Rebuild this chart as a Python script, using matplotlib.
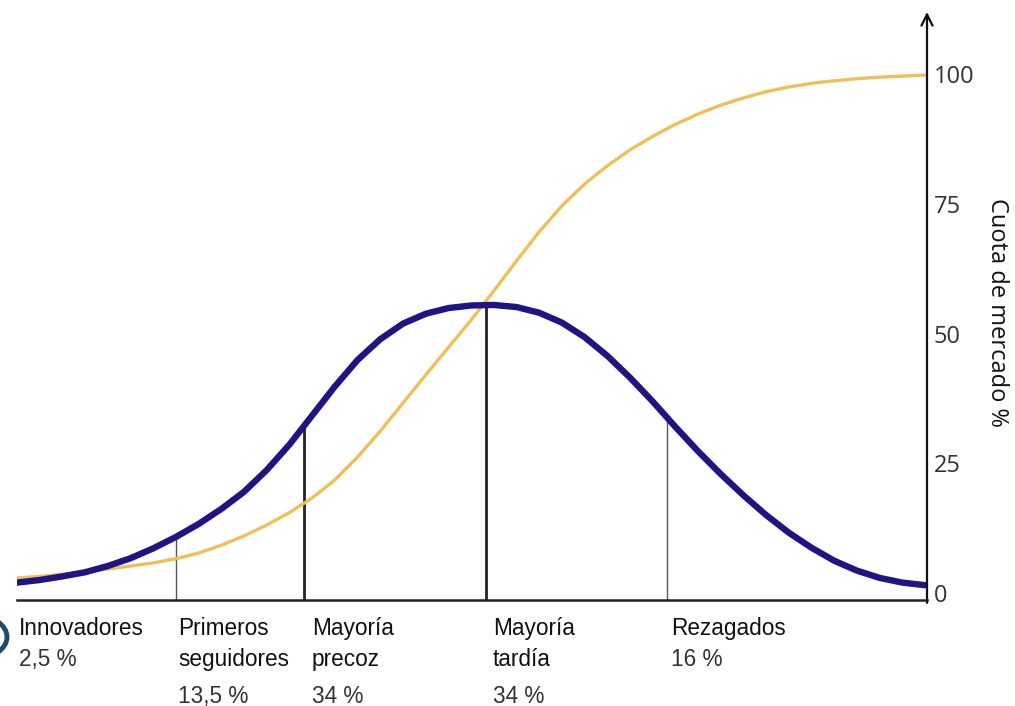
import numpy as np
import matplotlib.pyplot as plt
from matplotlib.patches import Circle

# sample positions along the adoption axis (0 = left edge, 100 = right axis)
t = np.linspace(0, 100, 41)

# adopters per stage (bell) and cumulative market share (S curve)
bell = [2.0, 2.5, 3.2, 4.0, 5.2, 6.7, 8.6, 10.8, 13.3, 16.2,
        19.5, 23.7, 28.6, 34.2, 39.8, 44.9, 48.9, 51.9, 53.8, 54.9,
        55.4, 55.5, 55.1, 54.0, 52.1, 49.3, 45.7, 41.5, 36.9, 32.0,
        27.3, 22.9, 18.8, 15.0, 11.6, 8.7, 6.2, 4.3, 2.9, 2.0, 1.5]
cumulative = [2.9, 3.2, 3.6, 4.1, 4.6, 5.2, 5.8, 6.6, 7.7, 9.2,
              11.0, 13.1, 15.5, 18.3, 21.8, 26.2, 31.2, 36.6, 42.0, 47.3,
              52.6, 58.2, 64.0, 69.6, 74.6, 78.8, 82.3, 85.4, 88.0, 90.3,
              92.3, 94.0, 95.4, 96.6, 97.5, 98.2, 98.7, 99.1, 99.4, 99.6, 99.8]

# boundaries between adopter groups
splits = [17.5, 31.6, 51.6, 71.6]
split_width = [1.0, 2.0, 2.0, 1.0]
split_color = ['#555555', '#222222', '#222222', '#555555']

groups = [['Innovadores', '2,5 %'],
          ['Primeros', 'seguidores', '13,5 %'],
          ['Mayoría', 'precoz', '34 %'],
          ['Mayoría', 'tardía', '34 %'],
          ['Rezagados', '16 %']]
group_x = [19, 178, 312, 493, 671]

y_ticks = [0, 25, 50, 75, 100]

W, H = 1015, 706
fig = plt.figure(figsize=(W / 100, H / 100), dpi=100)
ax = fig.add_axes([17 / W, 1 - 600 / H, (927 - 17) / W, (600 - 12) / H])
ax.set_xlim(0, 100.2)
ax.set_ylim(-1.35, 111.95)

for s, lw, c in zip(splits, split_width, split_color):
    top = np.interp(s, t, bell)
    ax.plot([s, s], [-1.35, top], color=c, lw=lw, zorder=1)

ax.plot(t, cumulative, color='#efc05a', lw=2.4, solid_capstyle='round',
        solid_joinstyle='round', zorder=2)
ax.plot(t, bell, color='#1f1484', lw=4.6, solid_capstyle='round',
        solid_joinstyle='round', zorder=3)

for side in ['left', 'top', 'right']:
    ax.spines[side].set_visible(False)
ax.spines['bottom'].set_linewidth(1.8)
ax.spines['bottom'].set_color('#222222')
ax.set_xticks([])

# right axis drawn as an arrow
ax.annotate('', xy=(100.2, 111.95), xytext=(100.2, -1.9),
            arrowprops=dict(arrowstyle='->', color='#111111', lw=1.6,
                            mutation_scale=20, shrinkA=0, shrinkB=0),
            annotation_clip=False)

ax.yaxis.tick_right()
ax.set_yticks(y_ticks)
ax.set_yticklabels([str(v) for v in y_ticks], fontsize=17, color='#333333',
                   family='Open Sans')
ax.tick_params(axis='y', length=0, pad=5)

fig.text(997 / W, 1 - 312 / H, 'Cuota de mercado %', rotation=-90,
         ha='center', va='center', fontsize=17, family='Open Sans', color='#111111')

baselines = [635, 666, 703]
for gx, lines in zip(group_x, groups):
    for i, line in enumerate(lines):
        if i == len(lines) - 1:
            row = 1 if len(lines) == 2 else 2
            col = '#333333'
        else:
            row = i
            col = '#111111'
        fig.text(gx / W, 1 - baselines[row] / H, line, ha='left', va='baseline',
                 fontsize=16.3, family='Liberation Sans', color=col)

# partial badge on the left edge
fig.patches.append(Circle((-24 / W, 1 - 637 / H), 31 / W, transform=fig.transFigure,
                          fill=False, ec='#1d4d6b', lw=3.5))

fig.savefig('out.png', dpi=100, facecolor='white')
